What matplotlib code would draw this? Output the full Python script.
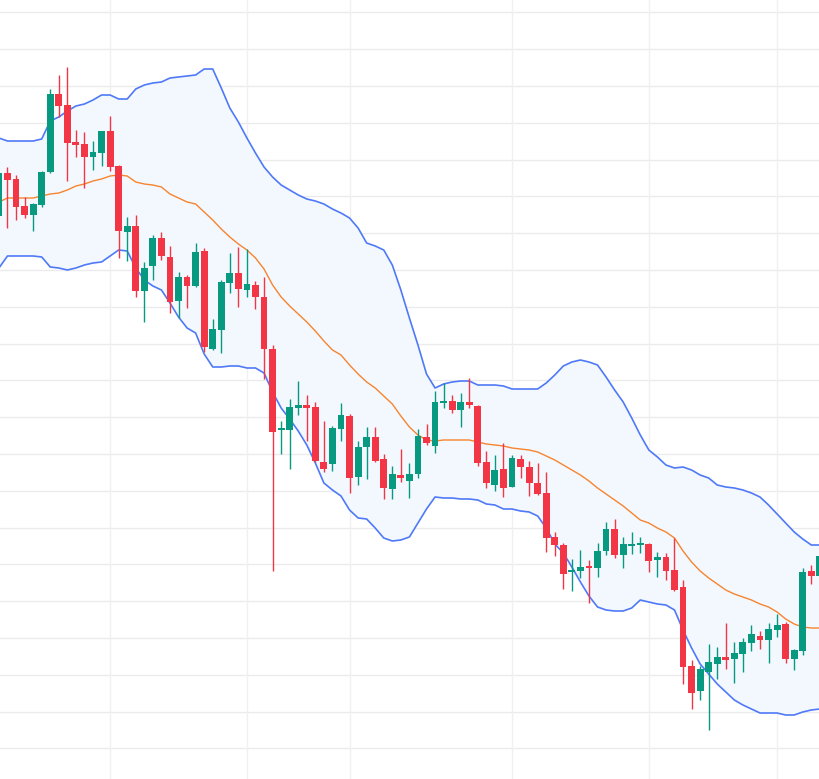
import numpy as np
import matplotlib
matplotlib.use("Agg")
import matplotlib.pyplot as plt

# candle index (-1 .. 95)
idx = list(range(-1, 96))

opens = [58.4, 62.7, 62.1, 59.4, 58.5, 59.5, 62.8, 70.6, 69.5, 65.8, 65.6, 64.3, 64.7, 66.9, 63.4, 56.8, 57.4,
         50.9, 53.4, 56.2, 54.3, 49.9, 52.3, 51.4, 54.9, 45.1, 47.0, 51.7, 52.7, 51.0, 51.5, 50.3, 45.1,
         37.0, 37.0, 39.2, 39.5, 39.3, 33.8, 33.6, 37.1, 38.4, 32.3, 35.3, 36.3, 34.1, 31.1, 32.5, 31.9,
         32.6, 36.3, 35.4, 39.7, 39.9, 39.0, 39.8, 39.4, 33.8, 31.5, 33.1, 31.3, 34.1, 33.3, 31.7, 30.7,
         26.3, 25.5, 22.8, 22.9, 23.4, 23.2, 24.9, 27.1, 24.5, 25.4, 25.5, 25.6, 24.0, 24.3, 23.0, 21.3,
         13.4, 10.9, 12.8, 13.6, 14.3, 14.1, 14.6, 15.7, 16.4, 16.0, 17.0, 17.6, 14.1, 14.9, 22.9, 22.4]
highs = [63.2, 63.3, 62.5, 60.3, 59.7, 62.9, 71.1, 72.5, 73.3, 67.0, 66.8, 65.9, 66.9, 68.4, 63.5, 58.3, 58.5,
         53.8, 56.5, 56.8, 55.4, 52.8, 52.5, 55.7, 55.2, 48.1, 52.0, 54.7, 55.3, 55.1, 51.9, 52.3, 45.5,
         37.9, 40.1, 41.9, 40.5, 39.8, 37.9, 37.4, 39.7, 38.6, 35.9, 37.3, 37.3, 34.6, 33.4, 35.1, 33.7,
         37.1, 37.6, 40.9, 41.7, 40.5, 40.7, 42.2, 39.5, 34.9, 34.5, 35.7, 34.5, 34.5, 33.9, 33.7, 32.8,
         26.8, 25.7, 24.1, 25.0, 24.0, 25.7, 27.8, 28.1, 26.3, 26.8, 26.3, 25.7, 24.8, 24.7, 26.2, 22.0,
         14.0, 13.4, 15.6, 15.3, 17.7, 15.8, 16.2, 17.5, 16.9, 17.7, 18.6, 17.8, 15.1, 23.2, 23.5, 24.7]
lows = [58.2, 57.2, 58.0, 58.2, 56.9, 59.3, 62.7, 68.3, 61.9, 64.3, 61.2, 63.0, 63.4, 62.9, 54.2, 53.9, 50.3,
        47.8, 52.0, 54.0, 48.7, 48.2, 49.2, 51.3, 44.8, 45.0, 44.7, 50.7, 49.3, 50.3, 49.1, 42.1, 22.9,
        34.6, 33.1, 38.5, 35.9, 33.8, 32.8, 32.9, 35.9, 30.7, 31.5, 32.1, 33.8, 30.1, 30.1, 31.8, 30.2,
        32.2, 35.5, 34.7, 39.2, 38.7, 37.3, 39.2, 33.4, 31.2, 30.9, 30.3, 31.3, 32.2, 30.4, 30.5, 24.8,
        24.4, 21.1, 20.9, 22.2, 19.7, 22.3, 24.5, 24.2, 23.2, 24.6, 24.7, 22.8, 22.3, 22.0, 20.9, 11.6,
        9.1, 10.0, 7.0, 12.1, 13.1, 11.7, 12.8, 14.9, 15.1, 13.7, 16.3, 13.7, 13.0, 14.5, 21.6, 22.2]
closes = [62.7, 62.0, 59.3, 58.5, 59.6, 62.8, 70.6, 69.4, 65.7, 65.5, 64.3, 64.8, 66.9, 63.3, 56.9, 57.4, 50.9,
          53.2, 56.2, 54.4, 49.8, 52.3, 51.4, 54.8, 45.3, 47.1, 51.8, 52.7, 51.1, 51.6, 50.3, 45.1, 36.8,
          37.2, 39.3, 39.5, 39.2, 33.9, 33.1, 37.2, 38.5, 32.2, 35.3, 36.3, 33.9, 31.2, 32.6, 32.2, 32.6,
          36.4, 35.7, 39.8, 39.9, 39.0, 39.8, 39.5, 33.7, 31.7, 33.0, 31.2, 34.2, 33.3, 31.7, 30.6, 26.2,
          25.5, 22.6, 23.0, 23.3, 23.2, 24.9, 27.1, 24.5, 25.6, 25.6, 25.6, 23.9, 24.3, 22.9, 21.0, 13.3,
          10.7, 13.1, 13.8, 14.3, 14.0, 14.7, 15.8, 16.6, 16.0, 17.1, 17.5, 14.1, 15.0, 22.8, 22.4, 24.4]

upper = [66.2, 65.9, 65.9, 65.9, 65.9, 66.1, 67.9, 68.3, 68.9, 69.4, 69.6, 70.0, 70.5, 70.5, 70.1, 70.1, 71.1,
         71.5, 71.7, 71.8, 72.2, 72.3, 72.4, 72.5, 73.1, 73.1, 71.2, 69.2, 67.8, 66.2, 64.7, 63.3, 62.3,
         61.5, 61.0, 60.5, 60.1, 59.9, 59.6, 59.1, 58.7, 58.2, 57.2, 55.7, 55.4, 55.0, 53.5, 51.0, 48.2,
         45.5, 42.6, 41.2, 41.6, 41.8, 41.9, 41.9, 41.5, 41.5, 41.5, 41.4, 41.1, 41.1, 41.1, 41.1, 41.7,
         42.5, 43.4, 43.8, 44.0, 43.8, 43.5, 42.3, 41.0, 39.8, 38.2, 36.5, 35.0, 34.3, 33.5, 33.2, 33.3,
         33.0, 32.5, 32.2, 31.5, 31.3, 31.2, 31.0, 30.7, 30.3, 29.5, 28.6, 27.7, 26.8, 26.1, 25.5, 25.5]
middle = [59.8, 60.2, 60.2, 60.2, 60.2, 60.4, 60.6, 60.7, 61.0, 61.4, 61.6, 61.9, 62.1, 62.4, 62.5, 62.4, 61.8,
          61.6, 61.5, 61.3, 60.6, 60.2, 59.8, 59.6, 58.8, 58.0, 57.1, 56.3, 55.6, 55.0, 54.2, 53.1, 51.5,
          50.3, 49.4, 48.6, 47.8, 46.9, 45.9, 45.0, 44.5, 43.5, 42.6, 41.8, 41.2, 40.4, 39.6, 38.4, 37.3,
          36.5, 36.0, 35.9, 36.0, 36.0, 36.0, 36.0, 35.8, 35.6, 35.5, 35.4, 35.2, 35.1, 35.0, 34.8, 34.4,
          34.0, 33.5, 33.0, 32.5, 31.9, 31.2, 30.6, 30.0, 29.4, 28.7, 28.0, 27.7, 27.2, 26.8, 26.2, 24.9,
          23.8, 22.9, 22.2, 21.6, 21.0, 20.6, 20.3, 20.0, 19.6, 19.3, 18.8, 18.1, 17.6, 17.3, 17.2, 17.2]
lower = [53.2, 54.4, 54.4, 54.4, 54.4, 54.3, 53.3, 53.2, 53.0, 53.2, 53.5, 53.7, 53.8, 54.4, 55.0, 54.9, 53.2,
         52.0, 51.4, 51.0, 49.7, 48.3, 47.2, 46.7, 44.6, 43.3, 43.3, 43.4, 43.4, 43.2, 43.2, 42.7, 40.8,
         39.2, 38.1, 36.9, 35.5, 33.7, 31.7, 31.0, 30.4, 29.0, 28.2, 28.1, 27.2, 26.2, 25.9, 26.0, 26.3,
         27.7, 29.1, 30.3, 30.2, 30.2, 30.1, 30.1, 30.0, 29.6, 29.5, 29.1, 29.1, 28.9, 28.8, 28.4, 27.2,
         25.6, 24.7, 23.3, 21.8, 20.4, 19.3, 19.0, 18.9, 18.9, 19.2, 20.0, 19.8, 19.6, 19.5, 19.0, 17.0,
         15.2, 13.6, 12.6, 11.6, 10.8, 10.0, 9.5, 9.1, 8.7, 8.7, 8.7, 8.5, 8.5, 8.8, 9.0, 9.1]

vgrid = [12, 28, 40, 59, 75, 90]
hgrid = [78.77 - 3.68 * i for i in range(21)]

UP = "#089981"
DOWN = "#F23645"

fig = plt.figure(figsize=(8.19, 7.79), dpi=100)
ax = fig.add_axes([0, 0, 1, 1])
ax.set_facecolor("white")

x = np.array(idx, dtype=float)
o = np.array(opens); h = np.array(highs); l = np.array(lows); c = np.array(closes)

ax.fill_between(x, lower, upper, color="#f2f8fe", zorder=1, linewidth=0)
ax.plot(x, upper, color="#4f79f7", lw=1.2, zorder=2)
ax.plot(x, lower, color="#4f79f7", lw=1.2, zorder=2)
ax.plot(x, middle, color="#f7842e", lw=1.0, zorder=2)

colors = [UP if cc >= oo else DOWN for oo, cc in zip(o, c)]
ax.vlines(x, l, h, colors=colors, lw=1.0, zorder=3)
bottoms = np.minimum(o, c)
heights = np.maximum(np.abs(c - o), 0.2)
ax.bar(x, heights, bottom=bottoms, width=0.8, color=colors, zorder=4, linewidth=0)

for g in hgrid:
    ax.axhline(g, color="#ebebee", lw=1.0, zorder=0)
for g in vgrid:
    ax.axvline(g, color="#f0f0f3", lw=1.0, zorder=0)

ax.set_xlim(-0.877, 94.9)
ax.set_ylim(2.1, 80.0)
ax.set_xticks([]); ax.set_yticks([])
for s in ax.spines.values():
    s.set_visible(False)

fig.savefig("out.png", dpi=100)
